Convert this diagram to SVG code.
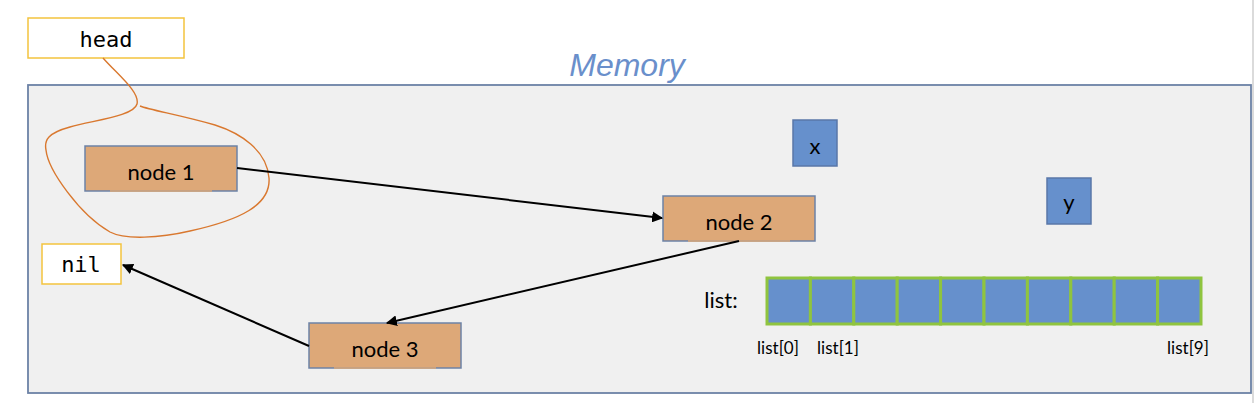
<svg xmlns="http://www.w3.org/2000/svg" width="1254" height="403" viewBox="0 0 1254 403">
<defs>
<style>
.node rect.b{fill:#dda878;stroke:#6c82a6;stroke-width:1.5}
.lbl{font-family:Lato,"Liberation Sans",sans-serif;font-size:22px;fill:#000;text-anchor:middle}
.mono{font-family:"DejaVu Sans Mono","Liberation Mono",monospace;font-size:22px;fill:#000;text-anchor:middle}
.ybox{fill:#fff;stroke:#f3c33e;stroke-width:1.5}
.var{fill:#6690cc;stroke:#5a77a8;stroke-width:1.5}
.cell{fill:#6690cc;stroke:#8fc43f;stroke-width:3}
.small{font-family:Lato,"Liberation Sans",sans-serif;font-size:17px;fill:#000;text-anchor:middle}
.conn{stroke:#000;stroke-width:2;fill:none;marker-end:url(#arr)}
</style>
<marker id="arr" viewBox="0 0 10 10" refX="9" refY="5" markerWidth="5.5" markerHeight="5.5" orient="auto">
<path d="M0,0 L10,5 L0,10 z" fill="#000"/>
</marker>
</defs>
<rect x="0" y="0" width="1254" height="403" fill="#fff"/>
<line x1="1253" y1="0" x2="1253" y2="403" stroke="#cfcfcf" stroke-width="1.5"/>
<g id="memory">
<rect x="28" y="85" width="1223" height="308" fill="#f0f0f0" stroke="#6c82a6" stroke-width="1.8"/>
<text x="627" y="76" font-family="Liberation Sans,Arial,sans-serif" font-style="italic" font-size="32" fill="#6a8fcb" text-anchor="middle">Memory</text>
</g>
<g id="head">
<rect class="ybox" x="28" y="18" width="156" height="40"/>
<text class="mono" x="106" y="47">head</text>
</g>
<g id="nil">
<rect class="ybox" x="42" y="244" width="79" height="40"/>
<text class="mono" x="81" y="272">nil</text>
</g>
<g id="lasso">
<path d="M103,58 C118,75 140,92 137,104 C134,116 95,120 70,127 C48,133 44,140 46,150 C48,170 80,215 110,232 C125,240 160,238 190,231 C240,220 271,205 269,178 C267,150 240,133 215,125 C180,115 150,110 140,106" fill="none" stroke="#d9782f" stroke-width="1.4"/>
</g>
<g id="node1" class="node">
<rect class="b" x="85" y="146" width="152" height="45"/>
<line x1="110" y1="191" x2="212" y2="191" stroke="#dda878" stroke-width="1.6"/>
<text class="lbl" x="161" y="180">node 1</text>
</g>
<g id="node2" class="node">
<rect class="b" x="663" y="196" width="152" height="45"/>
<line x1="688" y1="241" x2="790" y2="241" stroke="#dda878" stroke-width="1.6"/>
<text class="lbl" x="739" y="230">node 2</text>
</g>
<g id="node3" class="node">
<rect class="b" x="309" y="323" width="152" height="45"/>
<line x1="334" y1="368" x2="436" y2="368" stroke="#dda878" stroke-width="1.6"/>
<text class="lbl" x="385" y="357">node 3</text>
</g>
<g id="x">
<rect class="var" x="793" y="120" width="44" height="46"/>
<text class="lbl" x="815" y="154" font-size="20">x</text>
</g>
<g id="y">
<rect class="var" x="1047" y="178" width="44" height="46"/>
<text class="lbl" x="1069" y="210" font-size="20">y</text>
</g>
<g id="list">
<text class="lbl" x="721" y="308" font-size="20">list:</text>
<rect class="cell" x="767" y="278" width="43.4" height="46"/>
<rect class="cell" x="810.4" y="278" width="43.4" height="46"/>
<rect class="cell" x="853.8" y="278" width="43.4" height="46"/>
<rect class="cell" x="897.2" y="278" width="43.4" height="46"/>
<rect class="cell" x="940.6" y="278" width="43.4" height="46"/>
<rect class="cell" x="984" y="278" width="43.4" height="46"/>
<rect class="cell" x="1027.4" y="278" width="43.4" height="46"/>
<rect class="cell" x="1070.8" y="278" width="43.4" height="46"/>
<rect class="cell" x="1114.2" y="278" width="43.4" height="46"/>
<rect class="cell" x="1157.6" y="278" width="43.4" height="46"/>
<text class="small" x="778" y="354">list[0]</text>
<text class="small" x="838" y="354">list[1]</text>
<text class="small" x="1188" y="354">list[9]</text>
</g>
<g id="connectors">
<line class="conn" x1="237" y1="168" x2="662" y2="218"/>
<line class="conn" x1="739" y1="241" x2="387" y2="323"/>
<line class="conn" x1="309" y1="346" x2="123" y2="265"/>
</g>
</svg>
